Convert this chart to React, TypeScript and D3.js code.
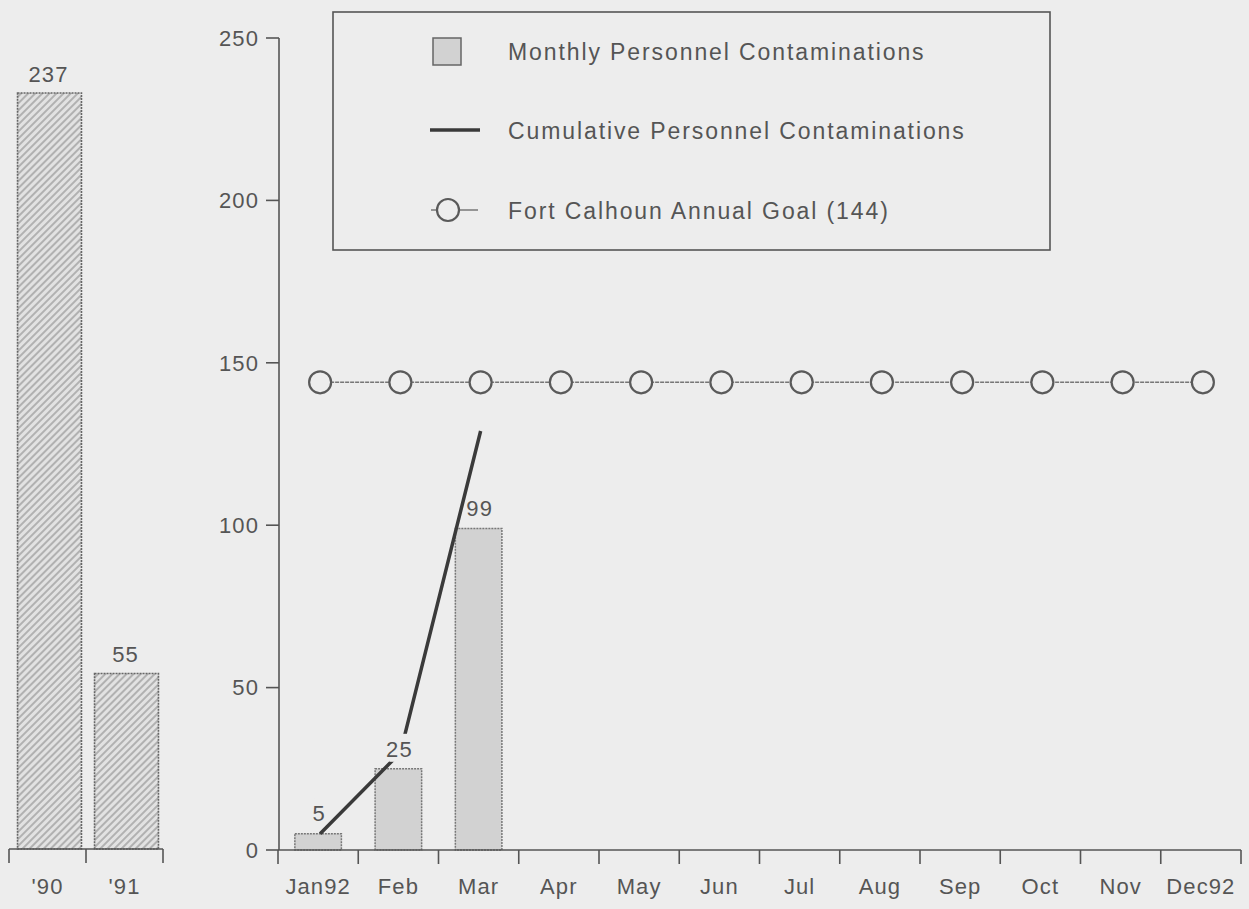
import React, { useEffect, useRef } from 'react';
import * as d3 from 'd3';

// yearly totals (left panel)
const years = ["'90", "'91"];
const yearTotals = [237, 55];

// 1992 monthly panel
const months = ['Jan92', 'Feb', 'Mar', 'Apr', 'May', 'Jun', 'Jul', 'Aug', 'Sep', 'Oct', 'Nov', 'Dec92'];
const monthly = [5, 25, 99];
const cumulative = [5, 30, 129];
const goal = [144, 144, 144, 144, 144, 144, 144, 144, 144, 144, 144, 144];
const yTicks = [0, 50, 100, 150, 200, 250];

const legendItems = [
  'Monthly Personnel Contaminations',
  'Cumulative Personnel Contaminations',
  'Fort Calhoun Annual Goal (144)',
];

const W = 1249;
const H = 909;
const BG = '#ededed';
const INK = '#555';
const FONT = '"Liberation Sans", Arial, sans-serif';

const App: React.FC = () => {
  const svgRef = useRef<SVGSVGElement>(null);

  useEffect(() => {
    const svg = d3.select(svgRef.current).html('');

    svg.append('rect').attr('width', W).attr('height', H).attr('fill', BG);

    // hatch pattern for yearly bars
    const defs = svg.append('defs');
    const pat = defs.append('pattern')
      .attr('id', 'hatch')
      .attr('patternUnits', 'userSpaceOnUse')
      .attr('width', 5).attr('height', 5)
      .attr('patternTransform', 'rotate(45)');
    pat.append('rect').attr('width', 5).attr('height', 5).attr('fill', '#e2e2e2');
    pat.append('line').attr('x1', 1).attr('x2', 1).attr('y1', 0).attr('y2', 5)
      .attr('stroke', '#909090').attr('stroke-width', 1.2);

    // ---------- left panel ----------
    const xL = d3.scaleBand<string>().domain(years).range([9, 163]);
    const yL = d3.scaleLinear().domain([0, 250]).range([849, 51.5]);
    const barWL = xL.bandwidth() * 0.83;

    const left = svg.append('g');
    left.selectAll('rect.yr')
      .data(years).enter().append('rect')
      .attr('class', 'yr')
      .attr('x', d => xL(d)! + xL.bandwidth() / 2 - barWL / 2 + 2)
      .attr('y', (d, i) => yL(yearTotals[i]))
      .attr('width', barWL)
      .attr('height', (d, i) => yL(0) - yL(yearTotals[i]))
      .attr('fill', 'url(#hatch)')
      .attr('stroke', '#666')
      .attr('stroke-width', 1.6)
      .attr('stroke-dasharray', '2 1');

    left.selectAll('text.yv')
      .data(years).enter().append('text')
      .attr('class', 'yv')
      .attr('x', d => xL(d)! + xL.bandwidth() / 2 + 1)
      .attr('y', (d, i) => yL(yearTotals[i]) - 19)
      .attr('dy', '0.35em')
      .attr('text-anchor', 'middle')
      .text((d, i) => yearTotals[i]);

    left.append('line')
      .attr('x1', xL.range()[0]).attr('x2', xL.range()[1])
      .attr('y1', yL(0)).attr('y2', yL(0))
      .attr('stroke', INK).attr('stroke-width', 1.6);
    left.selectAll('line.tk')
      .data([...years.map(d => xL(d)!), xL.range()[1]]).enter().append('line')
      .attr('class', 'tk')
      .attr('x1', d => d).attr('x2', d => d)
      .attr('y1', yL(0)).attr('y2', yL(0) + 14)
      .attr('stroke', INK).attr('stroke-width', 1.6);
    left.selectAll('text.yl')
      .data(years).enter().append('text')
      .attr('class', 'yl')
      .attr('x', d => xL(d)! + xL.bandwidth() / 2)
      .attr('y', 886)
      .attr('dy', '0.35em')
      .attr('text-anchor', 'middle')
      .text(d => d);

    // ---------- main panel ----------
    const x = d3.scaleBand<string>().domain(months).range([278, 1241]);
    const y = d3.scaleLinear().domain([0, 250]).range([850, 38]);
    const cx = (i: number) => x(months[i])! + x.bandwidth() / 2;
    const barW = x.bandwidth() * 0.58;

    const main = svg.append('g');

    // goal line
    main.append('path')
      .datum(goal)
      .attr('d', d3.line<number>().x((d, i) => cx(i) + 2).y(d => y(d)))
      .attr('fill', 'none').attr('stroke', '#777').attr('stroke-width', 1.6)
      .attr('stroke-dasharray', '4 1');
    main.selectAll('circle.goal')
      .data(goal).enter().append('circle')
      .attr('class', 'goal')
      .attr('cx', (d, i) => cx(i) + 2)
      .attr('cy', d => y(d))
      .attr('r', 11)
      .attr('fill', BG).attr('stroke', '#5a5a5a').attr('stroke-width', 2.2);

    // monthly bars
    main.selectAll('rect.mo')
      .data(monthly).enter().append('rect')
      .attr('class', 'mo')
      .attr('x', (d, i) => cx(i) - barW / 2)
      .attr('y', d => y(d))
      .attr('width', barW)
      .attr('height', d => y(0) - y(d))
      .attr('fill', '#d2d2d2')
      .attr('stroke', '#777')
      .attr('stroke-width', 1.5)
      .attr('stroke-dasharray', '2 1');

    // cumulative line
    main.append('path')
      .datum(cumulative)
      .attr('d', d3.line<number>().x((d, i) => cx(i) + 2).y(d => y(d)))
      .attr('fill', 'none').attr('stroke', '#3a3a3a').attr('stroke-width', 3.5);

    // value labels with paper-coloured box behind them
    const lab = main.selectAll('g.lab')
      .data(monthly).enter().append('g')
      .attr('class', 'lab')
      .attr('transform', (d, i) => `translate(${cx(i) + 1},${y(d) - 20})`);
    lab.append('rect')
      .attr('x', d => -String(d).length * 5)
      .attr('width', d => String(d).length * 10)
      .attr('y', -15).attr('height', 28)
      .attr('fill', BG);
    lab.append('text')
      .attr('dy', '0.35em')
      .attr('text-anchor', 'middle')
      .text(d => d);

    // y axis
    main.append('line')
      .attr('x1', 279).attr('x2', 279)
      .attr('y1', y(250)).attr('y2', y(0))
      .attr('stroke', INK).attr('stroke-width', 1.6);
    main.selectAll('line.ytk')
      .data(yTicks).enter().append('line')
      .attr('class', 'ytk')
      .attr('x1', 266).attr('x2', 279)
      .attr('y1', d => y(d)).attr('y2', d => y(d))
      .attr('stroke', INK).attr('stroke-width', 1.6);
    main.selectAll('text.ytl')
      .data(yTicks).enter().append('text')
      .attr('class', 'ytl')
      .attr('x', 259)
      .attr('y', d => y(d))
      .attr('dy', '0.35em')
      .attr('text-anchor', 'end')
      .text(d => d);

    // x axis
    main.append('line')
      .attr('x1', x.range()[0]).attr('x2', x.range()[1])
      .attr('y1', y(0)).attr('y2', y(0))
      .attr('stroke', INK).attr('stroke-width', 1.6);
    main.selectAll('line.xtk')
      .data([...months.map(m => x(m)!), x.range()[1]]).enter().append('line')
      .attr('class', 'xtk')
      .attr('x1', d => d).attr('x2', d => d)
      .attr('y1', y(0)).attr('y2', y(0) + 14)
      .attr('stroke', INK).attr('stroke-width', 1.6);
    main.selectAll('text.xtl')
      .data(months).enter().append('text')
      .attr('class', 'xtl')
      .attr('x', (d, i) => cx(i))
      .attr('y', 886)
      .attr('dy', '0.35em')
      .attr('text-anchor', 'middle')
      .text(d => d);

    // ---------- legend ----------
    const lg = svg.append('g');
    lg.append('rect')
      .attr('x', 333).attr('y', 12).attr('width', 717).attr('height', 238)
      .attr('fill', 'none').attr('stroke', INK).attr('stroke-width', 1.6);
    const rowY = [51, 130, 210];
    lg.append('rect')
      .attr('x', 433).attr('y', rowY[0] - 13).attr('width', 28).attr('height', 27)
      .attr('fill', '#d2d2d2').attr('stroke', '#666').attr('stroke-width', 1.5);
    lg.append('line')
      .attr('x1', 430).attr('x2', 480).attr('y1', rowY[1]).attr('y2', rowY[1])
      .attr('stroke', '#3a3a3a').attr('stroke-width', 3.5);
    lg.append('line')
      .attr('x1', 431).attr('x2', 478).attr('y1', rowY[2]).attr('y2', rowY[2])
      .attr('stroke', '#777').attr('stroke-width', 1.6);
    lg.append('circle')
      .attr('cx', 448).attr('cy', rowY[2]).attr('r', 11)
      .attr('fill', BG).attr('stroke', '#5a5a5a').attr('stroke-width', 2.2);
    lg.selectAll('text.lt')
      .data(legendItems).enter().append('text')
      .attr('class', 'lt')
      .attr('x', 508)
      .attr('y', (d, i) => rowY[i] + 1)
      .attr('dy', '0.35em')
      .attr('font-size', 23)
      .attr('letter-spacing', 1.9)
      .text(d => d);

    svg.selectAll('text')
      .attr('fill', '#555')
      .attr('font-family', FONT);
    svg.selectAll('text:not(.lt)')
      .attr('font-size', 22)
      .attr('letter-spacing', 1.1);
  }, []);

  return (
    <svg
      ref={svgRef}
      width={W}
      height={H}
      style={{ position: 'absolute', left: 0, top: 0, display: 'block' }}
    />
  );
};

export default App;
